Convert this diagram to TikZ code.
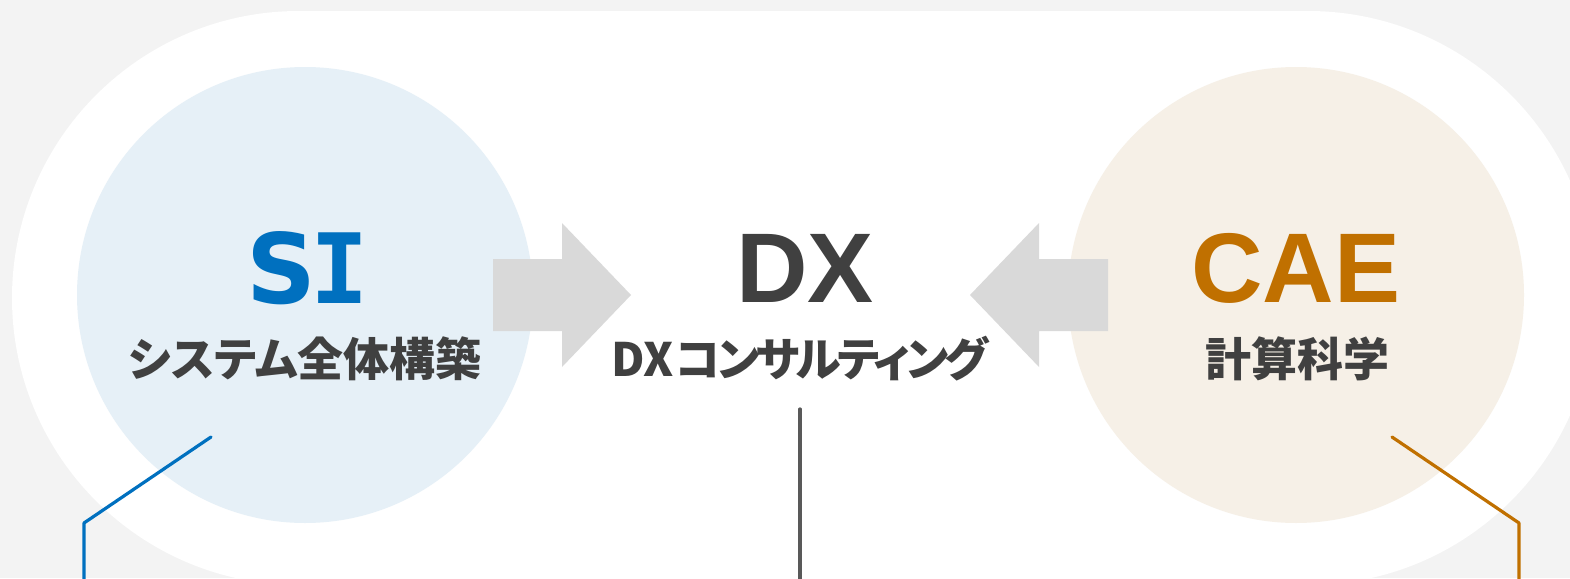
\documentclass[tikz,border=0pt]{standalone}
\usepackage{fontspec}
\newfontfamily\jpfont[RawFeature=+palt]{Noto Sans CJK JP}
\newfontfamily\jptight[RawFeature=+palt, LetterSpace=-8]{Noto Sans CJK JP}
\newfontfamily\headfont{Liberation Sans}
\newfontfamily\sifont{DejaVu Sans}
\newfontfamily\simono{DejaVu Sans Mono}
\definecolor{bgc}{HTML}{F3F3F3}
\definecolor{siblue}{HTML}{0070BF}
\definecolor{sifill}{HTML}{E6F0F7}
\definecolor{caeorange}{HTML}{C07000}
\definecolor{caefill}{HTML}{F6F0E7}
\definecolor{arrowgray}{HTML}{D9D9D9}
\definecolor{txt}{HTML}{404040}
\definecolor{midline}{HTML}{595959}
\tikzset{
  bigword/.style={anchor=base, inner sep=0pt, font=\headfont\bfseries\fontsize{99}{99}\selectfont},
  caption/.style={anchor=base, inner sep=0pt, text=txt, font=\jpfont\bfseries\fontsize{46}{46}\selectfont},
  leader/.style={line width=3.2pt, line cap=round, line join=round},
  bigarrow/.style={fill=arrowgray, draw=none}
}
\begin{document}
\begin{tikzpicture}[x=1pt,y=-1pt]
\fill[bgc] (0,0) rectangle (1570,578);
\useasboundingbox (0,0) rectangle (1570,578);
% white stadium
\fill[white] (299,298) circle[radius=287];
\fill[white] (1308,298) circle[radius=287];
\fill[white] (299,11) rectangle (1308,585);
% circles
\fill[sifill] (305,295) circle[radius=228];
\fill[caefill] (1296,295) circle[radius=228];
% arrows
\fill[bigarrow] (493,259) -- (562,259) -- (562,223) -- (631,295) -- (562,367) -- (562,331) -- (493,331) -- cycle;
\fill[bigarrow] (1108,259) -- (1039,259) -- (1039,223) -- (970,295) -- (1039,367) -- (1039,331) -- (1108,331) -- cycle;
% texts
\node[anchor=base, inner sep=0pt, text=siblue] (si) at (308,303) {\fontsize{97}{97}\selectfont\sifont\bfseries S\kern-6pt\simono\bfseries I};
\node[caption] (sicap) at (305,376) {システム全体構築};
\node[bigword, text=txt] (dx) at (805,302) {DX};
\node[caption] (dxcap) at (800,376) {DX\kern2pt{\jptight\bfseries\fontsize{46}{46}\selectfont コンサルティング}};
\node[bigword, text=caeorange] (cae) at (1296,302) {CAE};
\node[caption] (caecap) at (1297,376) {計算科学};
% leader lines
\coordinate (siA) at (211,437);
\coordinate (siB) at (84,523);
\coordinate (siC) at (84,590);
\coordinate (dxA) at (800,409);
\coordinate (dxC) at (800,590);
\coordinate (caeA) at (1392,437);
\coordinate (caeB) at (1519,523);
\coordinate (caeC) at (1519,590);
\draw[leader, siblue] (siA) -- (siB) -- (siC);
\draw[leader, midline] (dxA) -- (dxC);
\draw[leader, caeorange] (caeA) -- (caeB) -- (caeC);
\end{tikzpicture}
\end{document}
